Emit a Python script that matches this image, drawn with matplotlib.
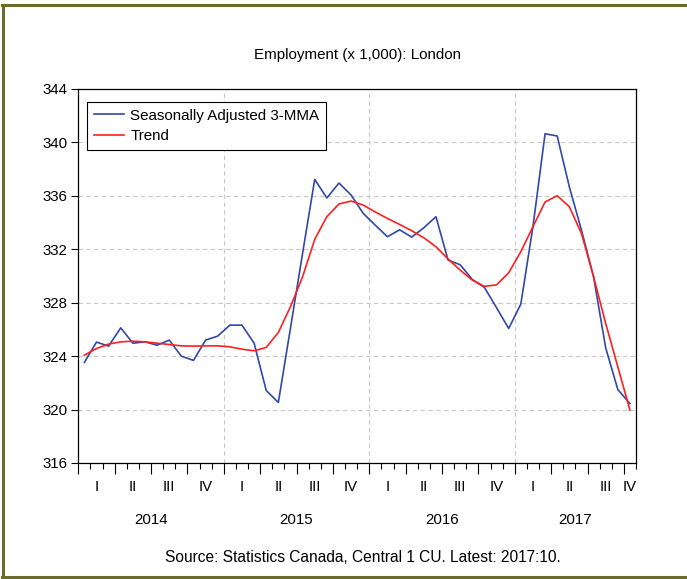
import matplotlib
matplotlib.use("Agg")
import matplotlib.pyplot as plt
import matplotlib.transforms as mtransforms
from matplotlib.lines import Line2D

plt.rcParams['font.family'] = ['Liberation Sans', 'DejaVu Sans']

years = ["2014", "2015", "2016", "2017"]
quarters = ["I", "II", "III", "IV"]
start_year = 2014
n_months = 46  # 2014:01 .. 2017:10

sa_3mma = [323.53, 325.05, 324.75, 326.12, 324.97, 325.07, 324.82, 325.20, 324.00, 323.68,
           325.20, 325.50, 326.32, 326.32, 324.97, 321.43, 320.53, 326.10, 331.70, 337.23,
           335.84, 336.96, 336.06, 334.69, 333.80, 332.94, 333.46, 332.91, 333.61, 334.44,
           331.19, 330.84, 329.74, 329.14, 327.62, 326.07, 327.90, 333.69, 340.65, 340.48,
           336.68, 333.44, 329.94, 324.62, 321.50, 320.45]
trend = [324.07, 324.57, 324.90, 325.07, 325.12, 325.07, 324.97, 324.87, 324.77, 324.75,
         324.77, 324.77, 324.70, 324.52, 324.40, 324.65, 325.77, 327.70, 329.94, 332.74,
         334.44, 335.39, 335.61, 335.31, 334.79, 334.31, 333.86, 333.39, 332.86, 332.19,
         331.27, 330.44, 329.69, 329.22, 329.34, 330.24, 331.82, 333.69, 335.54, 336.01,
         335.19, 333.19, 329.94, 326.45, 323.20, 319.96]
y_ticks = [316, 320, 324, 328, 332, 336, 340, 344]

title = "Employment (x 1,000): London"
source = "Source: Statistics Canada, Central 1 CU. Latest: 2017:10."
legend_labels = ["Seasonally Adjusted 3-MMA", "Trend"]

W, H = 687, 579
fig = plt.figure(figsize=(W / 100, H / 100), dpi=100)
ax = fig.add_axes([78.3 / W, (H - 463) / H, (636 - 78.3) / W, 374 / H])

x = [i + 0.5 for i in range(n_months)]
blue = "#3148a8"
red = "#ff1f1f"
ax.plot(x, sa_3mma, color=blue, lw=1.2, label=legend_labels[0], zorder=3)
ax.plot(x, trend, color=red, lw=1.2, label=legend_labels[1], zorder=3)

ax.set_xlim(0, n_months)
ax.set_ylim(316, 344)
ax.set_yticks(y_ticks)
ax.set_yticklabels([str(v) for v in y_ticks], fontsize=10.8)
ax.tick_params(axis='y', direction='out', length=5, width=0.8, pad=3)

# x ticks: quarters major, months minor
ax.set_xticks(list(range(0, n_months + 1, 3)))
ax.set_xticks(list(range(0, n_months + 1)), minor=True)
ax.tick_params(axis='x', which='major', direction='out', length=8, width=0.8, labelbottom=False)
ax.tick_params(axis='x', which='minor', direction='out', length=4, width=0.8, labelbottom=False)

# grid
for v in y_ticks:
    ax.axhline(v, color='#c8c8c8', lw=0.8, ls=(0, (4, 3)), zorder=1)
for k in range(1, len(years)):
    ax.axvline(12 * k, color='#c8c8c8', lw=0.8, ls=(0, (4, 3)), zorder=1)

for s in ax.spines.values():
    s.set_linewidth(0.9)

trans = mtransforms.blended_transform_factory(ax.transData, ax.transAxes)
for yi, yr in enumerate(years):
    y0 = 12 * yi
    y1 = min(12 * (yi + 1), n_months)
    ax.text((y0 + y1) / 2, -0.152, yr, transform=trans, ha='center', va='center', fontsize=10.8)
    for qi, q in enumerate(quarters):
        q0 = y0 + 3 * qi
        if q0 >= n_months:
            continue
        q1 = min(q0 + 3, n_months)
        ax.text((q0 + q1) / 2, -0.065, q, transform=trans, ha='center', va='center', fontsize=10.8)

leg = ax.legend(loc='upper left', bbox_to_anchor=(0.0156, 0.966), fontsize=10.9,
                frameon=True, fancybox=False, edgecolor='black', framealpha=1,
                handlelength=2.0, borderpad=0.45, labelspacing=0.42, handletextpad=0.4,
                borderaxespad=0.0)
leg.get_frame().set_linewidth(0.8)

fig.text(357 / W, 1 - 55 / H, title, ha='center', va='center', fontsize=10.9)
fig.text(363 / W, 1 - 557 / H, source, ha='center', va='center', fontsize=11.2)

# olive frame around the figure (left, top, bottom)
olive = "#6b6b2b"
fig.add_artist(Line2D([3 / W, 3 / W], [1 - 5 / H, 1 - 577 / H], transform=fig.transFigure, color=olive, lw=2.2))
fig.add_artist(Line2D([2 / W, 1], [1 - 5 / H, 1 - 5 / H], transform=fig.transFigure, color=olive, lw=2.2))
fig.add_artist(Line2D([2 / W, 1], [1 - 577 / H, 1 - 577 / H], transform=fig.transFigure, color=olive, lw=2.2))

fig.savefig("out.png", dpi=100)
